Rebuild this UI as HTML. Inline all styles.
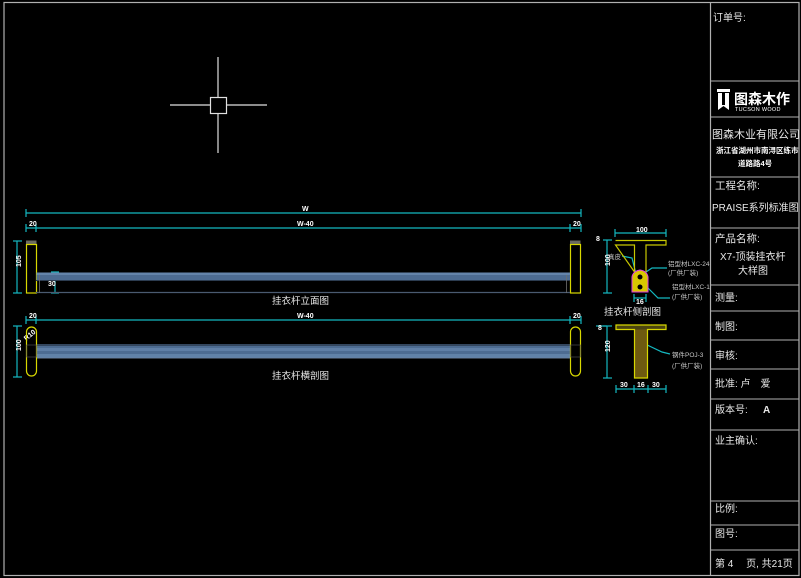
<!DOCTYPE html>
<html><head><meta charset="utf-8">
<style>
html,body{margin:0;padding:0;background:#000;}
svg{display:block;}
text{font-family:"Liberation Sans","Noto Sans CJK SC",sans-serif;}
</style></head>
<body>
<svg width="801" height="578" viewBox="0 0 801 578" xmlns="http://www.w3.org/2000/svg">
<rect x="0" y="0" width="801" height="578" fill="#000"/>
<!-- frame -->
<rect x="4" y="2.5" width="795" height="573" fill="none" stroke="#b0b0b0" stroke-width="1.2"/>
<line x1="710.5" y1="2" x2="710.5" y2="576" stroke="#b0b0b0" stroke-width="1.2"/>
<g stroke="#b0b0b0" stroke-width="1">
<line x1="710" y1="81" x2="799" y2="81"/>
<line x1="710" y1="117" x2="799" y2="117"/>
<line x1="710" y1="177" x2="799" y2="177"/>
<line x1="710" y1="228" x2="799" y2="228"/>
<line x1="710" y1="285" x2="799" y2="285"/>
<line x1="710" y1="311" x2="799" y2="311"/>
<line x1="710" y1="340" x2="799" y2="340"/>
<line x1="710" y1="369" x2="799" y2="369"/>
<line x1="710" y1="399" x2="799" y2="399"/>
<line x1="710" y1="430" x2="799" y2="430"/>
<line x1="710" y1="501" x2="799" y2="501"/>
<line x1="710" y1="525" x2="799" y2="525"/>
<line x1="710" y1="550" x2="799" y2="550"/>
</g>
<!-- title block text -->
<g fill="#e8e8e8" font-size="10">
<text x="713" y="21">订单号:</text>
<!-- logo -->
<rect x="717" y="89" width="13" height="3" fill="#fff"/>
<path d="M718 93 h11 v17 l-5.5 -4 l-5.5 4 z" fill="#fff"/>
<rect x="722" y="93" width="3" height="12" fill="#000"/>
<text x="734" y="104" font-size="14" font-weight="bold" fill="#fff">图森木作</text>
<text x="735" y="111" font-size="5.5" fill="#fff" letter-spacing="0.3">TUCSON WOOD</text>
<text x="712" y="138" font-size="11">图森木业有限公司</text>
<text x="716" y="153" font-size="7.5" font-weight="bold" fill="#fff">浙江省湖州市南浔区练市</text>
<text x="738" y="166" font-size="7.5" font-weight="bold" fill="#fff">道路路4号</text>
<text x="715" y="189" font-size="10.5">工程名称:</text>
<text x="712" y="211" font-size="10">PRAISE系列标准图</text>
<text x="715" y="242" font-size="10.5">产品名称:</text>
<text x="720" y="260" font-size="10">X7-顶装挂衣杆</text>
<text x="738" y="274" font-size="10">大样图</text>
<text x="715" y="301" font-size="10">测量:</text>
<text x="715" y="330" font-size="10">制图:</text>
<text x="715" y="359" font-size="10">审核:</text>
<text x="715" y="387" font-size="10">批准: 卢　爱</text>
<text x="715" y="413" font-size="10">版本号:</text>
<text x="763" y="413" font-size="10" font-weight="bold">A</text>
<text x="715" y="444" font-size="10">业主确认:</text>
<text x="715" y="512" font-size="10">比例:</text>
<text x="715" y="537" font-size="10">图号:</text>
<text x="715" y="567" font-size="10">第 4　 页, 共21页</text>
</g>
<!-- crosshair -->
<g stroke="#e0e0e0" stroke-width="1.2" fill="none">
<line x1="170" y1="105" x2="210" y2="105"/>
<line x1="226" y1="105" x2="267" y2="105"/>
<line x1="218" y1="57" x2="218" y2="97"/>
<line x1="218" y1="113" x2="218" y2="153"/>
<rect x="210.5" y="97.5" width="16" height="16"/>
</g>
<!-- dimension lines (cyan) -->
<g stroke="#14b8c0" stroke-width="1.2" fill="none">
<line x1="26" y1="213" x2="581" y2="213"/>
<line x1="26" y1="209" x2="26" y2="217"/><line x1="581" y1="209" x2="581" y2="217"/>
<line x1="26" y1="228" x2="581" y2="228"/>
<line x1="26" y1="224" x2="26" y2="232"/><line x1="36" y1="224" x2="36" y2="232"/>
<line x1="570" y1="224" x2="570" y2="232"/><line x1="581" y1="224" x2="581" y2="232"/>
<line x1="17" y1="241" x2="17" y2="293"/>
<line x1="13" y1="241" x2="22" y2="241"/><line x1="13" y1="293" x2="22" y2="293"/>
<line x1="55" y1="272" x2="55" y2="293"/>
<line x1="51" y1="272" x2="59" y2="272"/><line x1="51" y1="293" x2="59" y2="293"/>
<line x1="26" y1="320" x2="581" y2="320"/>
<line x1="26" y1="316" x2="26" y2="324"/><line x1="36" y1="316" x2="36" y2="324"/>
<line x1="570" y1="316" x2="570" y2="324"/><line x1="581" y1="316" x2="581" y2="324"/>
<line x1="17" y1="326" x2="17" y2="377"/>
<line x1="13" y1="326" x2="22" y2="326"/><line x1="13" y1="377" x2="22" y2="377"/>
<!-- side section dims -->
<line x1="615" y1="233" x2="666" y2="233"/>
<line x1="615" y1="229" x2="615" y2="237"/><line x1="666" y1="229" x2="666" y2="237"/>
<line x1="607" y1="240" x2="607" y2="293"/>
<line x1="603" y1="240" x2="612" y2="240"/><line x1="603" y1="293" x2="612" y2="293"/>
<line x1="634" y1="298" x2="646" y2="298"/>
<line x1="634" y1="294" x2="634" y2="302"/><line x1="646" y1="294" x2="646" y2="302"/>
<line x1="607" y1="326" x2="607" y2="378"/>
<line x1="603" y1="326" x2="612" y2="326"/><line x1="603" y1="378" x2="612" y2="378"/>
<line x1="616" y1="389" x2="666" y2="389"/>
<line x1="616" y1="385" x2="616" y2="393"/><line x1="634" y1="385" x2="634" y2="393"/>
<line x1="648" y1="385" x2="648" y2="393"/><line x1="666" y1="385" x2="666" y2="393"/>
<!-- leaders -->
<polyline points="622,256 632,258 638,282"/>
<polyline points="643,274 652,268 667,268"/>
<polyline points="645,285 658,298 670,298"/>
<polyline points="643,343 662,352 670,354"/>
<line x1="596" y1="326" x2="607" y2="326"/>
</g>
<!-- dimension labels -->
<g fill="#fff" font-size="7" font-weight="bold">
<text x="302" y="211">W</text>
<text x="297" y="226">W-40</text>
<text x="29" y="226">20</text>
<text x="573" y="226">20</text>
<text x="297" y="318">W-40</text>
<text x="29" y="318">20</text>
<text x="573" y="318">20</text>
<text x="48" y="286">30</text>
<text x="15" y="273" transform="rotate(-90 15 267)">105</text>
<text x="15" y="357" transform="rotate(-90 15 351)">100</text>
<text x="23" y="340" transform="rotate(-40 26 336)">R10</text>
<text x="636" y="232">100</text>
<text x="605" y="271" transform="rotate(-90 605 266)">100</text>
<text x="636" y="304">16</text>
<text x="596" y="241">8</text>
<text x="605" y="357" transform="rotate(-90 605 352)">120</text>
<text x="620" y="387">30</text>
<text x="637" y="387">16</text>
<text x="652" y="387">30</text>
<text x="598" y="330">8</text>
</g>
<!-- elevation end plates -->
<rect x="26" y="240.5" width="10.5" height="4" fill="#6a6a60"/>
<rect x="26.5" y="244.5" width="10" height="48.5" fill="none" stroke="#d8d800" stroke-width="1.2"/>
<rect x="570" y="240.5" width="10.5" height="4" fill="#6a6a60"/>
<rect x="570.5" y="244.5" width="10" height="48.5" fill="none" stroke="#d8d800" stroke-width="1.2"/>
<!-- elevation tube -->
<rect x="36.5" y="272.5" width="533.5" height="8" fill="#4d6c92"/>
<rect x="36.5" y="272.5" width="533.5" height="2.5" fill="#6484aa"/>
<line x1="36" y1="280.5" x2="570" y2="280.5" stroke="#2c3c50" stroke-width="1"/>
<line x1="36" y1="292.5" x2="570" y2="292.5" stroke="#4a5a70" stroke-width="1.2"/>
<line x1="39.5" y1="275" x2="39.5" y2="293" stroke="#707070" stroke-width="0.8"/>
<line x1="566.5" y1="275" x2="566.5" y2="293" stroke="#707070" stroke-width="0.8"/>
<!-- plan tube -->
<rect x="36.5" y="344" width="533.5" height="14" fill="#4d6c92"/>
<rect x="36.5" y="344" width="533.5" height="2" fill="#33465e"/>
<rect x="36.5" y="348" width="533.5" height="3" fill="#5f7fa6"/>
<rect x="36.5" y="354" width="533.5" height="3" fill="#6182a8"/>
<line x1="36" y1="358" x2="570" y2="358" stroke="#8aa6c8" stroke-width="0.8"/>
<!-- plan end ovals -->
<rect x="26.5" y="327" width="10" height="49" rx="5" ry="5" fill="none" stroke="#d8d800" stroke-width="1.2"/>
<rect x="570.5" y="327" width="10" height="49" rx="5" ry="5" fill="none" stroke="#d8d800" stroke-width="1.2"/>
<rect x="26.5" y="345" width="10" height="12" fill="none" stroke="#555" stroke-width="0.6"/>
<rect x="570.5" y="345" width="10" height="12" fill="none" stroke="#555" stroke-width="0.6"/>
<!-- captions -->
<g fill="#e8e8e8" font-size="9.5">
<text x="272" y="304">挂衣杆立面图</text>
<text x="272" y="379">挂衣杆横剖图</text>
<text x="604" y="315">挂衣杆侧剖图</text>
</g>
<!-- side section T (top) -->
<g stroke="#c8c800" stroke-width="1.2" fill="none">
<path d="M615.5 240.5 H666 V245 H646 V272 M634.5 272 V245 H615.5 Z"/>
</g>
<path d="M632 292 V277 Q633 271 640 270 Q647 271 648 277 V292 Z" fill="#d8c800" stroke="#e040e0" stroke-width="1"/>
<circle cx="640" cy="277" r="2.5" fill="#000"/>
<circle cx="640" cy="287" r="2.5" fill="#000"/>
<g fill="#c8c8c8" font-size="6.5">
<text x="608" y="259">真皮</text>
<text x="668" y="266">铝型材LXC-24</text>
<text x="668" y="275">(厂供厂装)</text>
<text x="672" y="289">铝型材LXC-1</text>
<text x="672" y="299">(厂供厂装)</text>
<text x="672" y="357">钢件POJ-3</text>
<text x="672" y="368">(厂供厂装)</text>
</g>
<!-- side section T (lower, filled) -->
<rect x="634.5" y="329" width="13" height="49" fill="#6e5a10"/>
<rect x="616" y="325" width="50" height="4.5" fill="#4a4410"/>
<g stroke="#d8d800" stroke-width="1.2" fill="none">
<path d="M616 325 H666 V329.5 H647.5 V378 H634.5 V329.5 H616 Z"/>
</g>
</svg>
</body></html>
